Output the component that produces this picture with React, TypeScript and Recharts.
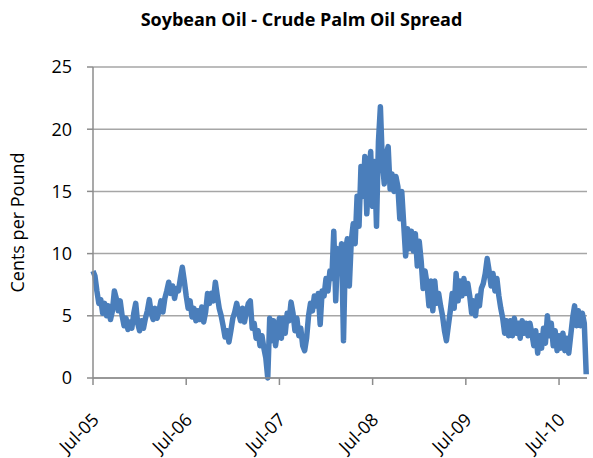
import React from 'react';
import { LineChart, Line, XAxis, YAxis, CartesianGrid } from 'recharts';

// spread in cents per pound, sampled every quarter month from Jul-05
const spread = [
  8.6, 8.2, 7.0, 6.0, 6.3, 5.2, 6.0, 5.0, 5.8, 4.7,
  5.4, 7.0, 6.4, 5.4, 6.2, 5.0, 4.2, 4.8, 3.9, 4.5,
  4.0, 5.2, 6.0, 4.4, 3.8, 4.6, 4.0, 4.8, 5.4, 6.3,
  5.2, 4.7, 5.6, 4.8, 5.4, 6.2, 5.3, 6.4, 7.0, 7.7,
  6.8, 7.4, 6.4, 7.2, 7.0, 8.0, 8.9, 7.8, 6.6, 5.6,
  6.2, 4.9, 5.6, 4.6, 5.4, 4.7, 5.7, 4.5, 5.3, 6.8,
  6.0, 6.8, 6.2, 7.7, 6.6, 5.6, 5.0, 4.2, 3.3, 3.8,
  2.9, 3.8, 4.8, 5.3, 6.0, 5.2, 4.6, 5.6, 4.5, 5.3,
  6.0, 6.2, 4.0, 4.4, 3.2, 3.8, 2.6, 3.4, 2.4, 1.6,
  0.0, 4.8, 3.0, 4.6, 2.6, 3.8, 4.8, 3.2, 4.8, 3.6,
  5.2, 4.6, 6.1, 5.2, 3.8, 4.8, 3.4, 4.0, 2.6, 2.2,
  3.2, 5.0, 6.0, 5.4, 6.6, 5.8, 6.8, 4.3, 7.0, 6.6,
  8.0, 7.0, 8.6, 8.0, 11.8, 6.2, 10.4, 8.4, 10.8, 3.0,
  10.2, 11.2, 7.4, 11.0, 12.4, 10.8, 14.6, 12.2, 17.0, 14.6,
  17.8, 13.2, 16.2, 18.2, 13.8, 17.4, 12.2, 19.0, 21.8, 17.4,
  15.6, 18.0, 18.6, 15.2, 16.4, 15.0, 16.2, 15.4, 12.8, 15.0,
  12.4, 9.8, 12.0, 10.4, 11.8, 10.2, 11.6, 9.0, 11.0, 9.4,
  7.2, 8.6, 7.6, 5.8, 7.8, 5.4, 7.8, 6.0, 6.8, 5.8,
  5.0, 3.8, 3.0, 4.2, 5.4, 6.8, 5.6, 8.4, 6.2, 7.8,
  6.6, 8.0, 6.8, 7.6, 6.6, 5.2, 6.2, 5.0, 6.6, 5.8,
  7.2, 7.6, 8.4, 9.6, 8.6, 7.4, 8.4, 7.0, 8.0, 6.6,
  5.6, 4.8, 3.6, 4.6, 3.4, 4.6, 3.4, 4.8, 3.6, 4.4,
  3.2, 4.6, 3.6, 4.4, 3.4, 4.4, 3.6, 2.6, 3.8, 2.0,
  3.4, 2.4, 4.0, 2.8, 5.0, 3.4, 4.4, 2.6, 3.8, 2.2,
  3.4, 2.4, 3.6, 2.2, 3.2, 2.0, 3.4, 4.8, 5.8, 4.2,
  5.4, 4.2, 5.2, 4.4, 0.3,
];
const monthStep = 0.25;

const tickMonths = [0, 12, 24, 36, 48, 60];
const tickLabels = ['Jul-05', 'Jul-06', 'Jul-07', 'Jul-08', 'Jul-09', 'Jul-10'];
const yTicks = [0, 5, 10, 15, 20, 25];

const data = spread.map((v, i) => ({ month: i * monthStep, spread: v }));

const font = '"Open Sans", sans-serif';

function DateTick(props: any) {
  const { x, y, payload } = props;
  const label = tickLabels[tickMonths.indexOf(payload.value)];
  const ax = x + 7;
  const ay = y + 34;
  return (
    <text
      x={ax}
      y={ay}
      textAnchor="end"
      transform={`rotate(-45, ${ax}, ${ay})`}
      fontSize={18}
      fontFamily={font}
      fill="#000"
    >
      {label}
    </text>
  );
}

export default function App() {
  return (
    <div style={{ position: 'absolute', left: 0, top: 0, width: 593, height: 458, background: '#fff' }}>
      <div
        style={{
          position: 'absolute',
          top: 7,
          left: 10,
          width: 583,
          textAlign: 'center',
          fontFamily: font,
          fontWeight: 700,
          fontSize: 18,
          color: '#000',
        }}
      >
        Soybean Oil - Crude Palm Oil Spread
      </div>
      <LineChart
        width={593}
        height={458}
        data={data}
        margin={{ top: 67, right: 6, left: 0, bottom: 0 }}
      >
        <CartesianGrid vertical={false} stroke="#a6a6a6" strokeWidth={1.5} />
        <XAxis
          dataKey="month"
          type="number"
          domain={[0, 63.6]}
          ticks={tickMonths}
          tick={<DateTick />}
          tickSize={7}
          height={80}
          stroke="#8c8c8c"
          strokeWidth={1.5}
          interval={0}
        />
        <YAxis
          domain={[0, 25]}
          ticks={yTicks}
          width={93}
          tickSize={6}
          tickMargin={15}
          stroke="#8c8c8c"
          strokeWidth={1.5}
          tick={{ fill: '#000', fontSize: 18, fontFamily: font }}
          label={{
            value: 'Cents per Pound',
            angle: -90,
            position: 'insideLeft',
            offset: 18,
            style: { textAnchor: 'middle', fontSize: 18, fontFamily: font, fill: '#000' },
          }}
        />
        <Line
          type="linear"
          dataKey="spread"
          stroke="#4a7ebb"
          strokeWidth={5.5}
          strokeLinejoin="round"
          dot={false}
          isAnimationActive={false}
        />
      </LineChart>
    </div>
  );
}
